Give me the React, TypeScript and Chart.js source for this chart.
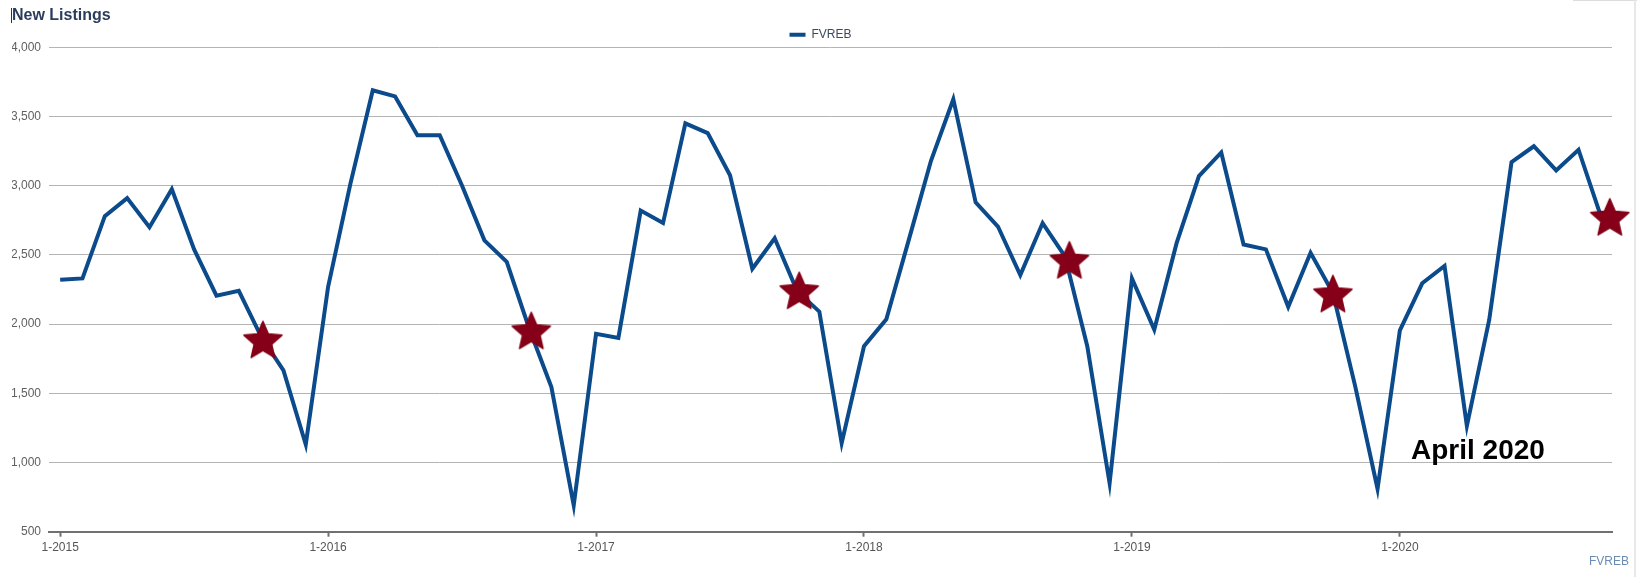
import React, { useEffect, useRef } from "react";
import { Chart, registerables } from "chart.js";

Chart.register(...registerables);

// ---- data ----
const seriesName = "FVREB";
const yearTickLabels = ["1-2015", "1-2016", "1-2017", "1-2018", "1-2019", "1-2020"];
const listings2015 = [2320, 2330, 2780, 2910, 2700, 2975, 2540, 2205, 2240, 1910, 1665, 1130];
const listings2016 = [2270, 3015, 3690, 3645, 3365, 3365, 3000, 2605, 2450, 1970, 1545, 690];
const listings2017 = [1930, 1900, 2820, 2730, 3450, 3380, 3075, 2400, 2620, 2240, 2090, 1140];
const listings2018 = [1840, 2035, 2605, 3180, 3625, 2880, 2705, 2355, 2730, 2490, 1840, 850];
const listings2019 = [2330, 1960, 2585, 3070, 3240, 2575, 2540, 2125, 2515, 2225, 1550, 810];
const listings2020 = [1955, 2295, 2420, 1265, 2030, 3170, 3285, 3110, 3260, 2780];
const listings = [
  ...listings2015,
  ...listings2016,
  ...listings2017,
  ...listings2018,
  ...listings2019,
  ...listings2020,
];
// October markers (month index from Jan 2015, value)
const starMonths = [9.08, 21.1, 33.1, 45.2, 57.0, 69.4];
const starValues = [1890, 1955, 2245, 2465, 2222, 2776];
const annotationText = "April 2020";
const annotationMonth = 60.5;
const annotationValue = 1023;
const chartTitle = "New Listings";
const sourceText = "FVREB";

const LINE_COLOR = "#0b4a8b";
const STAR_COLOR = "#850018";
const FONT = "Arial, 'Liberation Sans', sans-serif";

function makeStar(): HTMLCanvasElement {
  const c = document.createElement("canvas");
  c.width = 44;
  c.height = 44;
  const ctx = c.getContext("2d")!;
  const cx = 22;
  const cy = 24;
  const R = 20;
  const r = R * 0.46;
  ctx.beginPath();
  for (let i = 0; i < 10; i++) {
    const rad = i % 2 === 0 ? R : r;
    const a = -Math.PI / 2 + (i * Math.PI) / 5;
    const x = cx + rad * Math.cos(a);
    const y = cy + rad * Math.sin(a);
    if (i === 0) ctx.moveTo(x, y);
    else ctx.lineTo(x, y);
  }
  ctx.closePath();
  ctx.fillStyle = STAR_COLOR;
  ctx.lineJoin = "round";
  ctx.strokeStyle = STAR_COLOR;
  ctx.lineWidth = 1.5;
  ctx.fill();
  ctx.stroke();
  return c;
}

const annotationPlugin = {
  id: "annotationText",
  afterDatasetsDraw(chart: any) {
    const { ctx, scales } = chart;
    const x = scales.x.getPixelForValue(annotationMonth);
    const y = scales.y.getPixelForValue(annotationValue);
    ctx.save();
    ctx.font = `bold 28px ${FONT}`;
    ctx.fillStyle = "#000000";
    ctx.textAlign = "left";
    ctx.textBaseline = "alphabetic";
    ctx.fillText(annotationText, x, y);
    ctx.restore();
  },
};

export default function App() {
  const ref = useRef<HTMLCanvasElement | null>(null);

  useEffect(() => {
    document.body.style.margin = "0";
    const canvas = ref.current!;
    const star = makeStar();
    const chart = new Chart(canvas, {
      type: "line",
      data: {
        datasets: [
          {
            label: seriesName,
            order: 1,
            data: listings.map((v, i) => ({ x: i, y: v })),
            borderColor: LINE_COLOR,
            backgroundColor: LINE_COLOR,
            borderWidth: 4,
            pointRadius: 0,
            tension: 0,
            borderJoinStyle: "miter",
            borderCapStyle: "butt",
          },
          {
            label: "October",
            order: 0,
            data: starMonths.map((m, i) => ({ x: m, y: starValues[i] })),
            showLine: false,
            pointStyle: star as any,
            pointRadius: 12,
            borderColor: STAR_COLOR,
            backgroundColor: STAR_COLOR,
            clip: false as any,
          },
        ],
      },
      options: {
        responsive: false,
        animation: false,
        events: [],
        layout: { padding: { top: 6, left: 12, right: 8, bottom: 8 } },
        plugins: {
          tooltip: { enabled: false },
          title: {
            display: true,
            text: chartTitle,
            align: "start",
            color: "#2a3d5c",
            font: { family: FONT, size: 16, weight: "bold" },
            padding: { top: 0, bottom: 0 },
          },
          subtitle: {
            display: true,
            text: sourceText,
            position: "bottom",
            align: "end",
            color: "#6a8cb5",
            font: { family: FONT, size: 12, weight: "normal" },
            padding: { top: 0, bottom: 0 },
          },
          legend: {
            display: true,
            position: "top",
            align: "center",
            maxHeight: 22.1,
            labels: {
              boxWidth: 16,
              boxHeight: 4,
              padding: 3.5,
              color: "#3b4a5e",
              font: { family: FONT, size: 12 },
              generateLabels: () => [
                {
                  text: seriesName,
                  fillStyle: LINE_COLOR,
                  strokeStyle: LINE_COLOR,
                  lineWidth: 0,
                  hidden: false,
                  datasetIndex: 0,
                  fontColor: "#3b4a5e",
                } as any,
              ],
            },
          } as any,
        },
        scales: {
          x: {
            type: "linear",
            min: -0.5,
            max: 69.5,
            afterBuildTicks: (scale: any) => {
              scale.ticks = yearTickLabels.map((_, i) => ({ value: i * 12 }));
            },
            afterFit: (scale: any) => {
              scale.height = 22.9;
            },
            ticks: {
              autoSkip: false,
              maxRotation: 0,
              padding: 4,
              color: "#555555",
              font: { family: FONT, size: 12 },
              callback: (_v: any, i: number) => yearTickLabels[i],
            },
            grid: {
              display: true,
              drawOnChartArea: false,
              drawTicks: true,
              tickLength: 5,
              tickWidth: 2,
              tickColor: "#707070",
            },
            border: { display: true, color: "#707070", width: 2 },
          },
          y: {
            type: "linear",
            min: 500,
            max: 4000,
            afterFit: (scale: any) => {
              scale.width = 37;
            },
            ticks: {
              stepSize: 500,
              padding: 8,
              color: "#606060",
              font: { family: FONT, size: 12 },
              callback: (v: any) => Number(v).toLocaleString("en-US"),
            },
            grid: {
              color: "#b4b4b4",
              lineWidth: 1,
              drawTicks: false,
            },
            border: { display: false },
          },
          y2: {
            type: "linear",
            position: "right",
            display: true,
            afterFit: (scale: any) => {
              scale.width = 17;
            },
            ticks: { display: false },
            grid: { display: false, drawTicks: false },
            border: { display: false },
          },
        },
      },
      plugins: [annotationPlugin],
    } as any);
    return () => chart.destroy();
  }, []);

  return (
    <div style={{ position: "relative", width: 1637, height: 577, background: "#ffffff" }}>
      <canvas ref={ref} width={1637} height={577} style={{ display: "block" }} />
      <div style={{ position: "absolute", left: 11, top: 8, width: 1, height: 15, background: "#333" }} />
      <div style={{ position: "absolute", left: 1573, top: 0, width: 64, height: 1, background: "#dcdcdc" }} />
      <div style={{ position: "absolute", left: 1634, top: 0, width: 2, height: 577, background: "#e8e8e8" }} />
    </div>
  );
}
